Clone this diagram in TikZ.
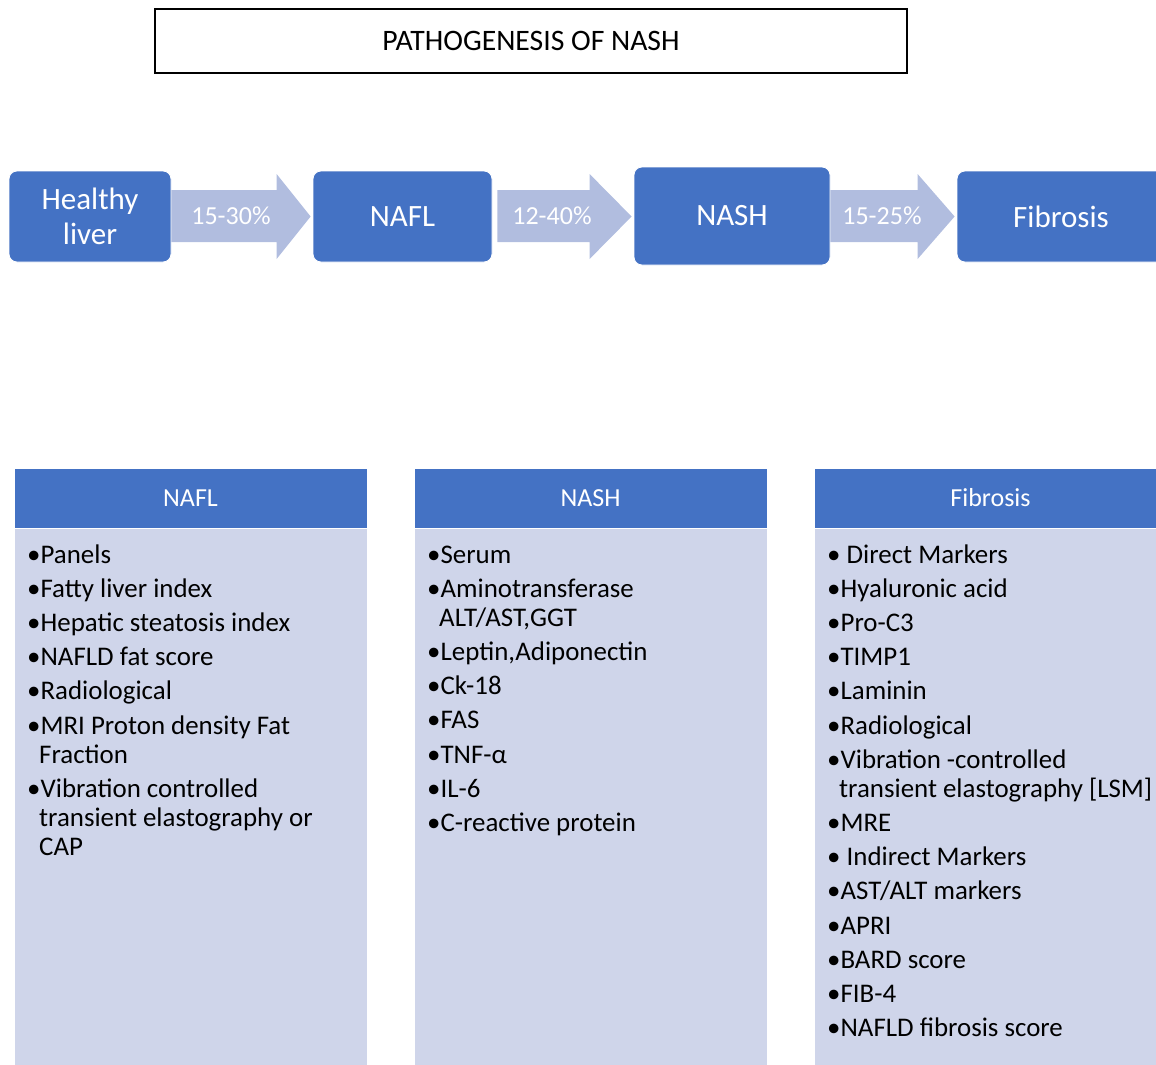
\documentclass[tikz,border=0pt]{standalone}
\usepackage{fontspec}
\setmainfont{Carlito}
\usetikzlibrary{calc}
\definecolor{mainblue}{HTML}{4472C4}
\definecolor{arrowc}{HTML}{B1BDDF}
\definecolor{panelc}{HTML}{CFD5EA}
\newcommand\blockarrow[4]{%
  \fill[arrowc] let \p1=(#1), \p2=(#2) in
  (\x1+#3pt,-190pt) -- (\x2-#4pt-2pt,-190pt) -- (\x2-#4pt-2pt,-174pt) --
  (\x2-2pt,-216.5pt) -- (\x2-#4pt-2pt,-259pt) -- (\x2-#4pt-2pt,-242pt) --
  (\x1+#3pt,-242pt) -- cycle;}
\begin{document}
\begin{tikzpicture}[x=1pt,y=-1pt,
  titlebox/.style={draw=black, line width=2pt, minimum width=752pt, minimum height=64pt,
    inner sep=0pt, font=\fontsize{29.7}{34}\selectfont},
  topbox/.style={rectangle, rounded corners=8pt, fill=mainblue, draw=white, line width=0.8pt,
    text=white, font=\fontsize{31}{35}\selectfont, align=center, inner sep=0pt},
  arrlab/.style={text=white, font=\fontsize{26}{30}\selectfont, inner sep=0pt},
  hdr/.style={rectangle, fill=mainblue, draw=white, line width=0.8pt, text=white,
    font=\fontsize{26}{30}\selectfont, minimum width=353pt, minimum height=60pt, inner sep=0pt},
  panelbody/.style={rectangle, fill=panelc, draw=white, line width=0.8pt,
    minimum width=353pt, minimum height=560pt, anchor=north, inner sep=0pt},
  item/.style={anchor=base west, inner sep=0pt, text=black, font=\fontsize{26.9}{29}\selectfont}
]
\useasboundingbox (0,0) rectangle (1156,1065);
\clip (0,0) rectangle (1156,1065);

% title
\node[titlebox] (title) at (531,41) {PATHOGENESIS OF NASH};

% top row
\node[topbox, minimum width=162pt, minimum height=91pt] (healthy) at (90,216.5) {Healthy\\liver};
\node[topbox, minimum width=179pt, minimum height=91pt] (nafl) at (402.5,216.5) {NAFL};
\node[topbox, minimum width=196pt, minimum height=98pt] (nash) at (732,216) {NASH};
\node[topbox, minimum width=213pt, minimum height=91pt] (fib) at (1063.5,216.5) {\hspace*{-5pt}Fibrosis};

\blockarrow{healthy.east}{nafl.west}{0}{34}
\blockarrow{nafl.east}{nash.west}{5}{42}
\blockarrow{nash.east}{fib.west}{0}{37}
\node[arrlab] (l1) at (231,216) {15-30\%};
\node[arrlab] (l2) at (552,216) {12-40\%};
\node[arrlab] (l3) at (882,216) {15-25\%};

% panels
\node[hdr] (h1) at (190.5,498) {NAFL};
\node[hdr] (h2) at (590.5,498) {NASH};
\node[hdr] (h3) at (990.5,498) {Fibrosis};
\node[panelbody] (b1) at (h1.south) {};
\node[panelbody] (b2) at (h2.south) {};
\node[panelbody] (b3) at (h3.south) {};

% panel 1 items
\node[item] (p1a) at (27,563) {•Panels};
\node[item] (p1b) at (27,597) {•Fatty liver index};
\node[item] (p1c) at (27,631) {•Hepatic steatosis index};
\node[item] (p1d) at (27,665.5) {•NAFLD fat score};
\node[item] (p1e) at (27,699.5) {•Radiological};
\node[item] (p1f) at (27,734) {•MRI Proton density Fat};
\node[item] (p1g) at (39,763) {Fraction};
\node[item] (p1h) at (27,797) {•Vibration controlled};
\node[item] (p1i) at (39,826) {transient elastography or};
\node[item] (p1j) at (39,855) {CAP};

% panel 2 items
\node[item] (p2a) at (427,563) {•Serum};
\node[item] (p2b) at (427,597) {•Aminotransferase};
\node[item] (p2c) at (439,626) {ALT/AST,GGT};
\node[item] (p2d) at (427,660) {•Leptin,Adiponectin};
\node[item] (p2e) at (427,694.5) {•Ck-18};
\node[item] (p2f) at (427,728.5) {•FAS};
\node[item] (p2g) at (427,763) {•TNF-α};
\node[item] (p2h) at (427,797) {•IL-6};
\node[item] (p2i) at (427,831) {•C-reactive protein};

% panel 3 items
\node[item] (p3a) at (827,563) {• Direct Markers};
\node[item] (p3b) at (827,597) {•Hyaluronic acid};
\node[item] (p3c) at (827,631) {•Pro-C3};
\node[item] (p3d) at (827,665.5) {•TIMP1};
\node[item] (p3e) at (827,699.5) {•Laminin};
\node[item] (p3f) at (827,734) {•Radiological};
\node[item] (p3g) at (827,768) {•Vibration -controlled};
\node[item] (p3h) at (839,797) {transient elastography [LSM]};
\node[item] (p3i) at (827,831) {•MRE};
\node[item] (p3j) at (827,865) {• Indirect Markers};
\node[item] (p3k) at (827,899) {•AST/ALT markers};
\node[item] (p3l) at (827,934) {•APRI};
\node[item] (p3m) at (827,968) {•BARD score};
\node[item] (p3n) at (827,1002) {•FIB-4};
\node[item] (p3o) at (827,1036) {•NAFLD fibrosis score};
\end{tikzpicture}
\end{document}
